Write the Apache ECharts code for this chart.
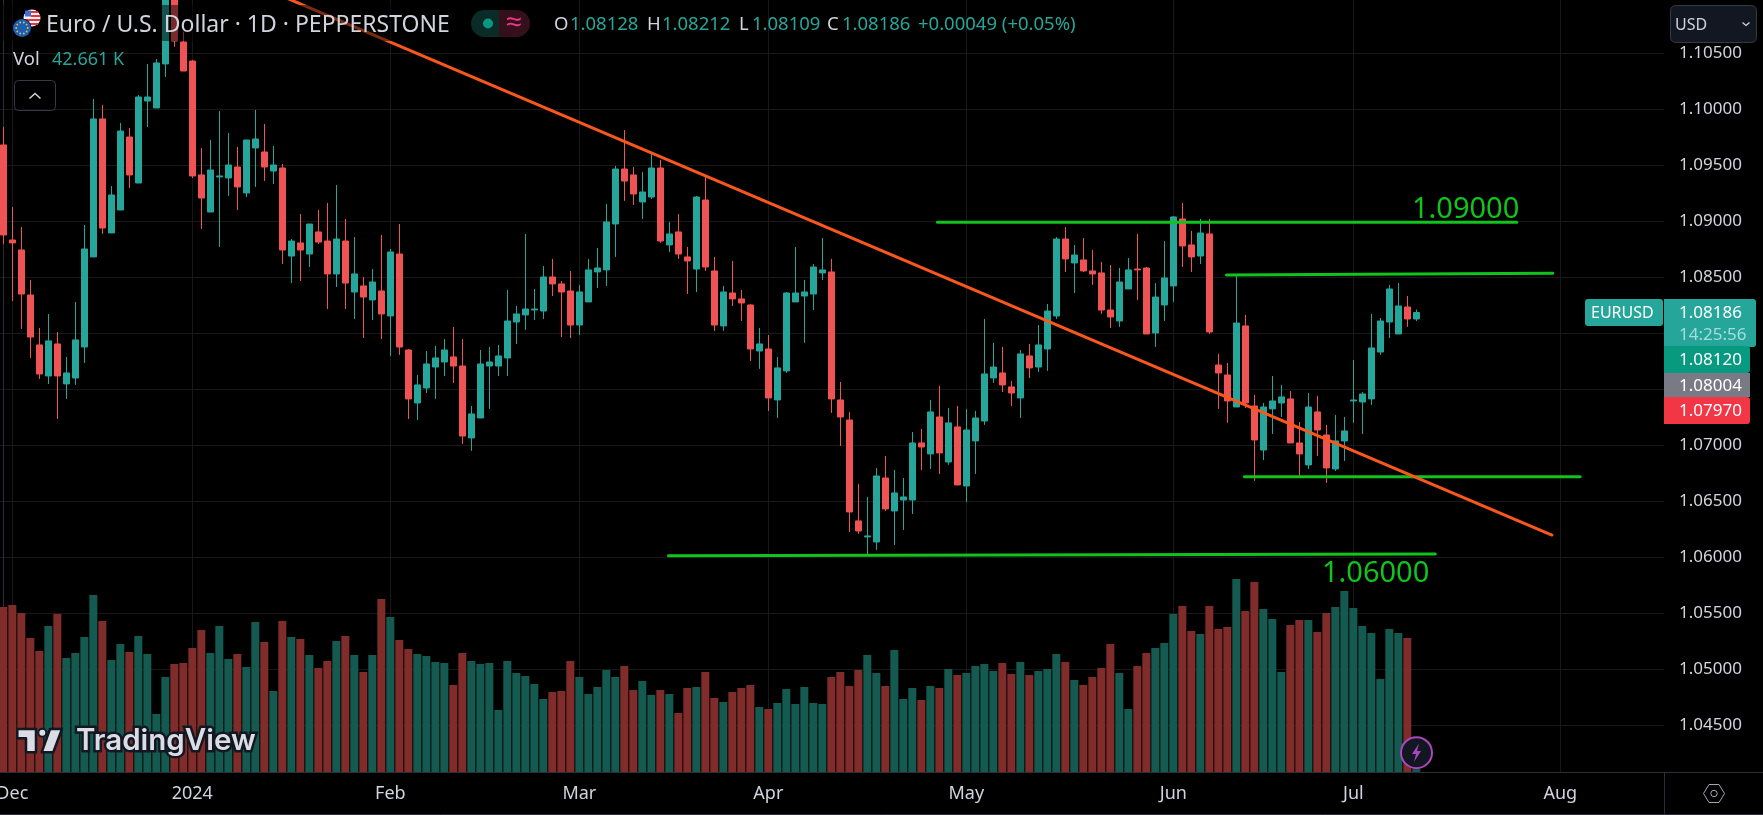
<!DOCTYPE html>
<html>
<head>
<meta charset="utf-8">
<style>
  * { margin: 0; padding: 0; }
  html, body { background: #000; }
  #container { position: relative; width: 1763px; height: 815px; overflow: hidden; }
</style>
</head>
<body>
<div id="container"></div>
<script src="https://cdn.jsdelivr.net/npm/echarts@6.0.0/dist/echarts.min.js"></script>
<script>
// EUR/USD daily bars, index = trading day (0 is 30 Nov 2023)
var opens = [
  1.09682,1.08833,1.08744,1.08342,1.07896,1.07619,1.07905,1.07548,1.07601,1.07878,
  1.08682,1.09914,1.08896,1.09101,1.09753,1.09342,1.10074,1.10012,1.10405,1.11155,
  1.10601,1.10431,1.09414,1.09083,1.09396,1.09387,1.09485,1.09253,1.09655,1.09619,
  1.09449,1.09476,1.08690,1.08807,1.08708,1.08905,1.08824,1.08530,1.08824,1.08369,
  1.08423,1.08298,1.08378,1.08155,1.08708,1.07851,1.07378,1.07512,1.07699,1.07744,
  1.07789,1.07708,1.07066,1.07244,1.07708,1.07708,1.07780,1.08101,1.08164,1.08208,
  1.08199,1.08503,1.08441,1.08378,1.08074,1.08280,1.08548,1.08566,1.08976,1.09467,
  1.09414,1.09173,1.09217,1.09476,1.08789,1.08905,1.08682,1.08574,1.09190,1.08557,
  1.08066,1.08360,1.08307,1.08253,1.07842,1.07860,1.07405,1.07664,1.08280,1.08333,
  1.08351,1.08539,1.08548,1.07405,1.07226,1.06325,1.06182,1.06137,1.06708,1.06414,
  1.06512,1.06512,1.07021,1.06923,1.07253,1.06851,1.07164,1.06637,1.07039,1.07217,
  1.07601,1.07646,1.07521,1.07423,1.07798,1.07699,1.07860,1.08155,1.08842,1.08628,
  1.08655,1.08557,1.08539,1.08208,1.08110,1.08396,1.08574,1.08583,1.08003,1.08253,
  1.08423,1.09021,1.08789,1.08690,1.08887,1.07717,1.07628,1.07342,1.08066,1.07351,
  1.06958,1.07325,1.07378,1.07414,1.07021,1.06825,1.07298,1.07092,1.06789,1.07039,
  1.07396,1.07387,1.07414,1.07833,1.08101,1.07994,1.08235,1.08128
];
var closes = [
  1.08878,1.08807,1.08351,1.07967,1.07637,1.07932,1.07619,1.07646,1.07941,1.08753,
  1.09914,1.08940,1.09235,1.09806,1.09414,1.10110,1.10110,1.10414,1.11184,1.10610,
  1.10342,1.09405,1.09208,1.09458,1.09405,1.09503,1.09307,1.09726,1.09735,1.09485,
  1.09503,1.08744,1.08824,1.08744,1.08976,1.08815,1.08530,1.08842,1.08449,1.08530,
  1.08324,1.08458,1.08173,1.08726,1.07878,1.07414,1.07539,1.07726,1.07780,1.07851,
  1.07708,1.07083,1.07280,1.07726,1.07744,1.07798,1.08110,1.08173,1.08217,1.08217,
  1.08503,1.08441,1.08369,1.08074,1.08369,1.08566,1.08583,1.08994,1.09467,1.09360,
  1.09244,1.09262,1.09476,1.08824,1.08887,1.08708,1.08646,1.09217,1.08592,1.08074,
  1.08369,1.08307,1.08271,1.07860,1.07905,1.07423,1.07691,1.08360,1.08360,1.08369,
  1.08592,1.08566,1.07414,1.07253,1.06405,1.06235,1.06191,1.06726,1.06432,1.06575,
  1.06539,1.07021,1.06985,1.07298,1.06932,1.07200,1.06646,1.07137,1.07244,1.07637,
  1.07699,1.07539,1.07467,1.07816,1.07691,1.07896,1.08199,1.08842,1.08664,1.08699,
  1.08557,1.08530,1.08208,1.08146,1.08458,1.08566,1.08566,1.07994,1.08324,1.08494,
  1.09039,1.08780,1.08682,1.08896,1.08012,1.07646,1.07396,1.08092,1.07378,1.07048,
  1.07342,1.07396,1.07432,1.07021,1.06923,1.07342,1.07137,1.06798,1.07039,1.07128,
  1.07405,1.07458,1.07869,1.08110,1.08396,1.08244,1.08128,1.08186
];
var highs = [
  1.09842,1.09128,1.08949,1.08476,1.08048,1.08173,1.08012,1.07789,1.08280,1.08967,
  1.10092,1.10039,1.09315,1.09878,1.09833,1.10128,1.10405,1.10449,1.11274,1.11244,
  1.10693,1.10440,1.09655,1.09726,1.09985,1.09789,1.09664,1.09726,1.09994,1.09869,
  1.09673,1.09512,1.08842,1.09065,1.08976,1.09101,1.09164,1.09324,1.09021,1.08860,
  1.08503,1.08574,1.08878,1.08753,1.08976,1.07860,1.07628,1.07842,1.07887,1.07949,
  1.08057,1.07949,1.07351,1.07851,1.07878,1.07896,1.08387,1.08244,1.08887,1.08396,
  1.08601,1.08664,1.08467,1.08557,1.08432,1.08664,1.08762,1.09155,1.09494,1.09815,
  1.09485,1.09440,1.09610,1.09548,1.08994,1.09065,1.08771,1.09226,1.09405,1.08682,
  1.08423,1.08646,1.08387,1.08262,1.08048,1.07985,1.07789,1.08369,1.08771,1.08476,
  1.08619,1.08851,1.08664,1.07566,1.07298,1.06655,1.06539,1.06798,1.06905,1.06780,
  1.06708,1.07119,1.07146,1.07405,1.07530,1.07333,1.07351,1.07325,1.07307,1.08128,
  1.07914,1.07878,1.07575,1.07851,1.07905,1.08074,1.08262,1.08860,1.08949,1.08789,
  1.08851,1.08744,1.08637,1.08610,1.08583,1.08673,1.08887,1.08592,1.08449,1.08824,
  1.09048,1.09164,1.08914,1.09021,1.09021,1.07816,1.07735,1.08512,1.08164,1.07450,
  1.07378,1.07619,1.07539,1.07485,1.07208,1.07467,1.07441,1.07182,1.07271,1.07253,
  1.07762,1.07476,1.08173,1.08137,1.08432,1.08449,1.08333,1.08212
];
var lows = [
  1.08798,1.08289,1.08039,1.07780,1.07592,1.07548,1.07235,1.07414,1.07539,1.07735,
  1.08682,1.08887,1.08896,1.09101,1.09298,1.09342,1.09842,1.10012,1.10289,1.10559,
  1.10342,1.09387,1.08932,1.09083,1.08771,1.09226,1.09101,1.09217,1.09307,1.09360,
  1.09333,1.08619,1.08449,1.08467,1.08592,1.08798,1.08217,1.08414,1.08217,1.08128,
  1.07958,1.08119,1.07949,1.07798,1.07807,1.07235,1.07226,1.07467,1.07414,1.07619,
  1.07557,1.07012,1.06950,1.07244,1.07325,1.07619,1.07619,1.07905,1.08030,1.08119,
  1.08128,1.08333,1.07967,1.07958,1.07985,1.08280,1.08405,1.08423,1.08682,1.09182,
  1.09146,1.09021,1.09199,1.08807,1.08726,1.08664,1.08351,1.08369,1.08557,1.08021,
  1.08021,1.08244,1.08110,1.07753,1.07682,1.07307,1.07244,1.07646,1.08280,1.07914,
  1.08208,1.08476,1.07289,1.06994,1.06226,1.06209,1.06021,1.06066,1.06414,1.06110,
  1.06244,1.06387,1.06780,1.06789,1.06744,1.06825,1.06646,1.06494,1.06744,1.07182,
  1.07557,1.07476,1.07351,1.07244,1.07601,1.07655,1.07664,1.08128,1.08548,1.08360,
  1.08548,1.08432,1.08173,1.08048,1.08057,1.08396,1.08298,1.07994,1.07878,1.08110,
  1.08280,1.08592,1.08548,1.08619,1.07994,1.07325,1.07200,1.07342,1.07333,1.06682,
  1.06869,1.07101,1.07253,1.07021,1.06726,1.06789,1.06905,1.06664,1.06771,1.06860,
  1.07200,1.07101,1.07360,1.07807,1.07958,1.07994,1.08057,1.08109
];
// volume in thousands
var volumes = [
  2475,2505,2385,2010,1815,2190,2370,1710,1785,2025,
  2655,2265,1680,1920,1800,2040,1770,870,1425,1620,
  1635,1860,2130,1785,2190,1695,1770,1575,2250,1950,
  1215,2265,2025,1995,1755,1560,1665,1965,2040,1755,
  1500,1755,2595,2325,1980,1845,1770,1740,1650,1635,
  1305,1785,1665,1620,1635,930,1665,1485,1440,1320,
  1095,1200,1215,1665,1425,1170,1275,1530,1425,1590,
  1230,1365,1155,1230,1170,885,1260,1275,1500,1110,
  1050,1200,1260,1305,975,945,1035,1245,1020,1275,
  1035,1020,1425,1500,1290,1530,1755,1485,1290,1830,
  1095,1260,1080,1290,1260,1545,1455,1485,1590,1620,
  1515,1635,1470,1650,1455,1515,1545,1770,1650,1380,
  1305,1425,1560,1920,1485,945,1590,1785,1860,1935,
  2370,2490,2115,2070,2490,2145,2175,2895,2415,2850,
  2445,2295,1500,2205,2280,2280,2100,2385,2475,2715,
  2460,2190,2085,1395,2145,2085,2010,42.661
];
var tickIndex = [1, 21, 43, 64, 85, 107, 130, 150, 173];
var tickLabels = ['Dec', '2024', 'Feb', 'Mar', 'Apr', 'May', 'Jun', 'Jul', 'Aug'];
var priceTicks = [1.045, 1.05, 1.055, 1.06, 1.065, 1.07, 1.075, 1.08, 1.085, 1.09, 1.095, 1.10, 1.105];

// hand drawn lines: [trading day, price]
var trendLine = [[29.63, 1.11056], [172.07, 1.06199]];
var line109 = [[103.8, 1.08991], [168.15, 1.08991]];
var line1085 = [[135.9, 1.08521], [172.15, 1.08536]];
var line1067 = [[137.9, 1.0672], [175.2, 1.0672]];
var line106 = [[73.9, 1.06014], [159.1, 1.0603]];

var UP = '#26a69a', DOWN = '#f05353';
var GREEN = '#10c41c', ORANGE = '#f9571c';
var LINE = '#2a2e39', GRID = '#181818', TEXT = '#d1d4dc';
var FONT = '"Noto Sans", sans-serif';

var dom = document.getElementById('container');
var myChart = echarts.init(dom, null, { renderer: 'canvas' });

function candleRows() {
  return opens.map(function (o, i) { return [i, o, closes[i], lows[i], highs[i]]; });
}
function volumeRows() {
  return volumes.map(function (v, i) {
    return {
      value: [i, v],
      itemStyle: { color: closes[i] >= opens[i] ? '#155a50' : '#7f2c2b' }
    };
  });
}
function drawnLine(points, color) {
  return {
    type: 'line', data: points, symbol: 'none', z: 5, silent: true,
    lineStyle: { color: color, width: 3, cap: 'round' }
  };
}

// overlay helpers
function label(x, y, str, color, size, extra) {
  var style = { x: x, y: y, text: str, fill: color, font: (size || 15) + 'px ' + FONT, textVerticalAlign: 'middle', textAlign: 'left' };
  for (var k in extra) style[k] = extra[k];
  return { type: 'text', z: 120, silent: true, style: style };
}
function box(x, y, w, h, fill, r, stroke) {
  return {
    type: 'rect', z: 110, silent: true,
    shape: { x: x, y: y, width: w, height: h, r: r || 0 },
    style: { fill: fill, stroke: stroke || null, lineWidth: stroke ? 1 : 0 }
  };
}
function seg(points, color, width) {
  return {
    type: 'polyline', z: 115, silent: true,
    shape: { points: points },
    style: { stroke: color, fill: null, lineWidth: width || 1 }
  };
}
function dot(x, y, r, fill, stroke, width) {
  return {
    type: 'circle', z: 118, silent: true,
    shape: { cx: x, cy: y, r: r },
    style: { fill: fill, stroke: stroke || null, lineWidth: width || 0 }
  };
}
function poly(points, fill, stroke, width) {
  return {
    type: 'polygon', z: 118, silent: true,
    shape: { points: points },
    style: { fill: fill, stroke: stroke || null, lineWidth: width || 0, lineJoin: 'round' }
  };
}

var overlay = [];
// header backdrop dims whatever runs under the legend
overlay.push(box(0, 5, 450, 36, 'rgba(0,0,0,0.5)'));

// US + EU roundels
overlay.push(dot(32, 18, 8.5, '#f2f2f2'));
overlay.push(box(31, 11, 7, 2, '#e8343f'));
overlay.push(box(31, 15, 9, 2, '#e8343f'));
overlay.push(box(24, 19, 16, 2, '#e8343f'));
overlay.push(box(26, 23, 12, 2, '#e8343f'));
overlay.push(box(25, 10.5, 6, 6, '#3f6fd0'));
overlay[overlay.length - 1].z = 116;
for (var n = 1; n < 6; n++) overlay[n].z = 116;
overlay.push(dot(22, 28, 9.5, '#000', null));
overlay.push(dot(22, 28, 9, '#1a5fb4'));
for (var s = 0; s < 10; s++) {
  var ang = s * Math.PI / 5;
  var d = dot(22 + 5.8 * Math.cos(ang), 28 + 5.8 * Math.sin(ang), 0.9, '#e8c33a');
  d.z = 119;
  overlay.push(d);
}

overlay.push(label(46, 25, 'Euro / U.S. Dollar · 1D · PEPPERSTONE', TEXT, 23));

// market status pill
overlay.push(box(471, 10, 28, 27, '#0b2b28', [13.5, 0, 0, 13.5]));
overlay.push(box(499, 10, 31, 27, '#33101c', [0, 13.5, 13.5, 0]));
overlay.push(dot(488, 23.5, 5, '#089981'));
overlay.push(label(506, 23, '≈', '#f23685', 28));

// OHLC legend
var headerParts = [
  [554, 'O', TEXT], [570, '1.08128', UP], [647, 'H', TEXT], [662, '1.08212', UP],
  [739, 'L', TEXT], [752, '1.08109', UP], [827, 'C', TEXT], [842, '1.08186', UP],
  [918, '+0.00049 (+0.05%)', UP]
];
headerParts.forEach(function (p) { overlay.push(label(p[0], 25, p[1], p[2], 18.5)); });

overlay.push(label(13, 60, 'Vol', TEXT, 18.5));
overlay.push(label(52, 60, '42.661 K', UP, 18));
overlay.push(box(14.5, 80.5, 41, 30, 'rgba(0,0,0,0.4)', 4, '#363a45'));
overlay.push(seg([[29.5, 98.5], [35, 93.5], [40.5, 98.5]], TEXT, 1.5));

// green level captions
overlay.push(label(1412, 210, '1.09000', GREEN, 29));
overlay.push(label(1322, 574, '1.06000', GREEN, 29));

// price scale boxes
overlay.push(box(1585, 299, 78, 27, UP, [3, 3, 3, 3]));
overlay.push(label(1591, 313.5, 'EURUSD', '#fff', 16));
overlay.push(box(1664, 299, 92, 48, UP, [0, 3, 3, 0]));
overlay.push(label(1679, 313.5, '1.08186', '#fff', 17));
overlay.push(label(1679, 335, '14:25:56', '#a8dcd7', 17));
overlay.push(box(1664, 346, 86, 27, '#089981', [0, 3, 3, 0]));
overlay.push(label(1679, 360.5, '1.08120', '#fff', 17));
overlay.push(box(1664, 373, 86, 24, '#787b86'));
overlay.push(label(1679, 386, '1.08004', '#fff', 17));
overlay.push(box(1664, 397, 86, 27, '#f23645', [0, 3, 3, 0]));
overlay.push(label(1679, 411.5, '1.07970', '#fff', 17));

// currency button
overlay.push(box(1670.5, 5.5, 86, 37, '#131722', 5, '#363a45'));
overlay.push(label(1675, 25, 'USD', TEXT, 16));
overlay.push(seg([[1742.5, 22.5], [1746, 25.5], [1749.5, 22.5]], TEXT, 1.3));

// frame pieces under the time scale
overlay.push(seg([[1664.5, 772], [1664.5, 815]], LINE, 1));
overlay.push(seg([[1664, 772.5], [1763, 772.5]], LINE, 1));
overlay.push(seg([[0, 814.5], [1763, 814.5]], LINE, 1));

// settings hexagon
overlay.push(poly([[1703.5, 793.5], [1709, 784.5], [1719, 784.5], [1724.5, 793.5], [1719, 802.5], [1709, 802.5]], null, '#a5a8b2', 1));
overlay.push(dot(1714, 793.5, 3.2, null, '#a5a8b2', 1));

// TradingView mark
var OUTLINE = '#131722', LOGO = '#dadde6';
overlay.push(poly([[17.3, 729], [36, 729], [36, 752.3], [26, 752.3], [26, 738.3], [17.3, 738.3]], LOGO, OUTLINE, 2.5));
overlay.push(dot(42.3, 732.7, 4, LOGO, OUTLINE, 2));
overlay.push(poly([[50, 729], [62, 729], [53.3, 752.3], [41.7, 752.3]], LOGO, OUTLINE, 2.5));
overlay.push(label(76, 741, 'TradingView', LOGO, 30, {
  font: '600 29.5px Inter, "Noto Sans", sans-serif', stroke: OUTLINE, lineWidth: 5
}));

// flash icon over the last volume bar
overlay.push(dot(1416.5, 752.7, 15.5, '#131722', '#ab47bc', 2));
overlay.push(poly([[1419, 743.5], [1412, 754], [1416, 754], [1414, 762], [1421, 751], [1417, 751]], '#ab47bc'));

var option = {
  animation: false,
  backgroundColor: '#000',
  textStyle: { fontFamily: FONT },
  // the Dec label hangs off the left edge, grid must not shrink for it
  grid: { left: 0, right: 99, top: 0, height: 772, containLabel: false, outerBoundsMode: 'none' },
  xAxis: {
    type: 'value',
    min: -0.37,
    max: 184.52,
    containShape: false,
    axisLine: { onZero: false, lineStyle: { color: LINE } },
    axisTick: { show: false, customValues: tickIndex },
    axisLabel: {
      color: TEXT, fontSize: 18, margin: 13, fontFamily: FONT,
      customValues: tickIndex,
      formatter: function (v) { return tickLabels[tickIndex.indexOf(v)]; }
    },
    splitLine: { show: true, lineStyle: { color: GRID, width: 1 } }
  },
  yAxis: [
    {
      type: 'value',
      position: 'right',
      min: 1.04083,
      max: 1.10976,
      axisLine: { show: true, lineStyle: { color: LINE } },
      axisTick: { show: false, customValues: priceTicks },
      axisLabel: {
        color: TEXT, fontSize: 17, margin: 15, fontFamily: FONT, padding: [3, 0, 0, 0],
        customValues: priceTicks,
        formatter: function (v) { return v.toFixed(5); }
      },
      splitLine: { show: true, lineStyle: { color: GRID, width: 1 } }
    },
    { type: 'value', show: false, min: 0, max: 11580, splitLine: { show: false } }
  ],
  series: [
    {
      name: 'Vol', type: 'bar', yAxisIndex: 1, data: volumeRows(),
      barWidth: 8, z: 1, silent: true
    },
    {
      name: 'EURUSD', type: 'candlestick', data: candleRows(),
      encode: { x: 0, y: [1, 2, 3, 4] }, barWidth: 6, z: 2, silent: true,
      itemStyle: { color: UP, color0: DOWN, borderColor: UP, borderColor0: DOWN, borderWidth: 1 }
    },
    drawnLine(line109, GREEN),
    drawnLine(line1085, GREEN),
    drawnLine(line1067, GREEN),
    drawnLine(line106, GREEN),
    drawnLine(trendLine, ORANGE)
  ],
  graphic: { elements: overlay }
};

myChart.setOption(option);
</script>
</body>
</html>
